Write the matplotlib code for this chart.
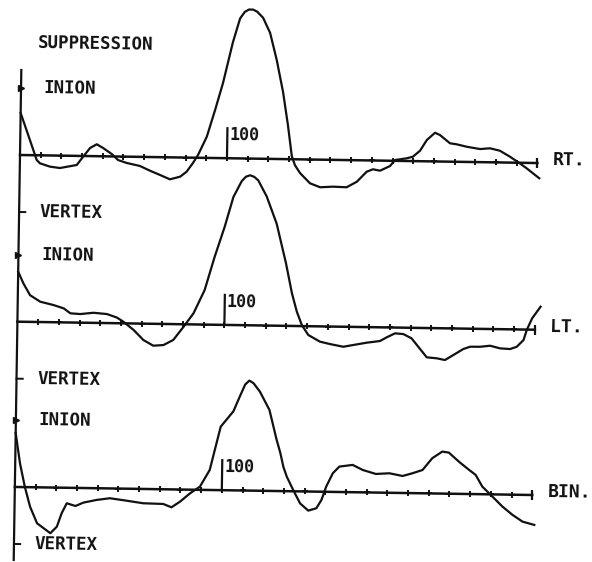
import matplotlib
matplotlib.use("Agg")
import matplotlib.pyplot as plt
import matplotlib.transforms as mtransforms

# time axis of every sweep (ms), ticks every 10 ms up to 250
tick_ms = list(range(10, 250, 10))
sweep_end = 250

# RT. trace: time (ms) and amplitude (arbitrary units, + = up)
rt_ms = [0, 4.7, 8.1, 9.7, 14.6, 19.4, 27.5, 30.4, 33.8, 37, 40.1, 44.3, 47.4, 51.6, 58,
         62.9, 67.8, 72.6, 77.5, 80.6, 83.6, 86, 90.1, 93.9, 97.5, 102, 105.3, 107.5, 109.5,
         111.5, 113.5, 116.4, 119.9, 123.3, 126.6, 129.2, 131.3, 132.9, 135.4, 140.3, 145.2,
         151.4, 158, 162.9, 167.6, 170.6, 174, 178.8, 181.2, 186.8, 189.8, 193.2, 196.4,
         200.3, 202.7, 207.6, 210.8, 215.7, 222.2, 227, 231.8, 236.7, 241.5, 244.8, 251]
rt_amp = [42, 15, -4.7, -8, -11.2, -12.4, -9.1, -1, 8.1, 11.9, 8.3, 2.4, -3.5, -6.3, -9.1,
          -13.7, -17.8, -22, -19.2, -14.1, -5.3, 2.8, 21.2, 48, 75, 116, 140, 146.5, 149,
          149, 147, 141, 126, 99, 67, 34, 3, -6, -13.7, -23.8, -27.6, -26.8, -27.2, -21.5,
          -11.3, -8.8, -10.1, -5.3, 0.8, 2.7, 4.4, 10.5, 21.3, 28.7, 26.5, 18.4, 17.5, 15.2,
          13.1, 14, 11.7, 5.9, -0.6, -5.4, -15.2]

# LT. trace
lt_ms = [0, 2.6, 5.9, 10.9, 17.3, 22.3, 25.5, 30.3, 36.7, 43.2, 48, 51.2, 56.2, 61, 65.8,
         70.7, 75.4, 80.3, 85, 90.2, 94.8, 99.4, 103.4, 107.3, 109.3, 111.3, 113.3, 115.3,
         119.5, 124.5, 129.3, 132.4, 134.9, 137.4, 140.6, 146.3, 151.1, 157.6, 162.4, 168.8,
         175.3, 178.5, 182.5, 186.5, 190.5, 193.8, 198, 202.8, 206.8, 210.8, 215.6, 218.9,
         223.7, 228.5, 233.4, 238.2, 241.4, 244.6, 246.1, 248.6, 252.6]
lt_amp = [50, 38.4, 26.7, 20.3, 17.2, 14, 9.2, 8.6, 10.1, 9, 5.7, 1.6, -6.5, -16.4, -21.9,
          -21.1, -15.9, -2.5, 11.1, 34.5, 68, 98, 128, 144, 148.5, 150, 148.5, 145, 129, 102,
          62.5, 32.6, 14.3, 1.1, -8.8, -15.3, -17.5, -20, -18.1, -15.6, -13.7, -9.9, -5.8,
          -6.4, -10.5, -18.8, -29.3, -30.1, -31.7, -26.6, -20.4, -18, -17.9, -16.7, -19.2,
          -19.7, -17.3, -10.5, -0.4, 11.3, 23.1]

# BIN. trace
bin_ms = [0, 2.3, 4.8, 7.5, 11, 17.5, 20.6, 22.8, 25.2, 29.4, 33.2, 39.6, 46, 54.1, 62.1,
          71.8, 75.8, 79.9, 84.7, 89.4, 94, 99, 105, 108, 110.5, 112.5, 114.5, 117.7, 122.4,
          126, 128, 129.6, 131.3, 134.5, 137.9, 141.9, 145.8, 148.2, 150.4, 153.5, 156.6, 163,
          167.9, 174.3, 180.8, 187.2, 192, 196.8, 201.4, 206.2, 209.4, 214.3, 219.3, 222.5,
          225.8, 230.8, 235.7, 240.6, 245.5, 251.2]
bin_amp = [54, 23.8, 0.5, -19.5, -36, -45.7, -39, -25.6, -15.5, -18.1, -14.6, -11.7, -9.8,
           -12, -14.3, -14.7, -17.9, -12.1, -3.6, 3.2, 20, 63.5, 79, 94, 106, 110, 107.5,
           99, 81, 52, 38, 24, 14.4, 1.2, -12, -19.1, -16.6, -8.2, 5.2, 18.7, 25.4, 27.3,
           22.4, 18.6, 19.5, 17, 19.9, 23.3, 35.2, 42, 41.1, 32.2, 24.1, 19.2, 7.6, -2.3,
           -12.1, -20.2, -26.8, -29.9]

sweep_names = ["RT.", "LT.", "BIN."]
sweep_ms = [rt_ms, lt_ms, bin_ms]
sweep_amp = [rt_amp, lt_amp, bin_amp]

# layout of the plotter sheet
offsets = [407, 240.3, 75]      # baseline of each sweep
inion_level = 67
vertex_level = -57
INK = "#111111"
FONT = dict(family="DejaVu Sans Mono", fontweight="bold", fontsize=12.5, color=INK)

fig = plt.figure(figsize=(5.92, 5.62), dpi=100)
ax = fig.add_axes([0, 0, 1, 1])
ax.set_xlim(-20 / 2.07, 572 / 2.07)
ax.set_ylim(0, 562)
ax.axis("off")

# the scanned sheet is turned a little clockwise
tilt = -0.89
tr = ax.transData + mtransforms.Affine2D().rotate_deg_around(20, 407, tilt)


def text(x, y, s, **kw):
    opts = dict(FONT)
    opts.update(kw)
    ax.text(x, y, s, transform=tr, rotation=tilt, rotation_mode="anchor",
            va="center", ha="left", **opts)


# common vertical axis
ax.plot([0, 0], [offsets[2] - 73, offsets[0] + 85], color=INK, lw=1.6, transform=tr)

for name, ms, amp, off in zip(sweep_names, sweep_ms, sweep_amp, offsets):
    # time base with tick marks
    ax.plot([0, sweep_end], [off, off], color=INK, lw=1.8, transform=tr)
    ax.plot(tick_ms, [off] * len(tick_ms), ls="none", marker="+", ms=5, mew=1.4,
            color=INK, transform=tr)
    ax.plot([sweep_end], [off], ls="none", marker="|", ms=7, mew=1.6, color=INK, transform=tr)
    ax.plot([100, 100], [off, off + 30], color=INK, lw=1.6, transform=tr)
    text(101, off + 23, "100", fontsize=12)

    # the evoked response
    ax.plot(ms, [off + a for a in amp], color=INK, lw=1.6, transform=tr,
            solid_joinstyle="round")

    # electrode marks
    ax.plot([0], [off + inion_level], ls="none", marker=">", ms=5, color=INK, transform=tr)
    ax.plot([0, 3], [off + vertex_level] * 2, color=INK, lw=1.4, transform=tr)
    text(11, off + inion_level, "INION")
    text(10, off + vertex_level, "VERTEX")
    text(257.5, off + 3, name, fontsize=13)

text(8, offsets[0] + 112, "SUPPRESSION")

fig.savefig("out.png", dpi=100)
